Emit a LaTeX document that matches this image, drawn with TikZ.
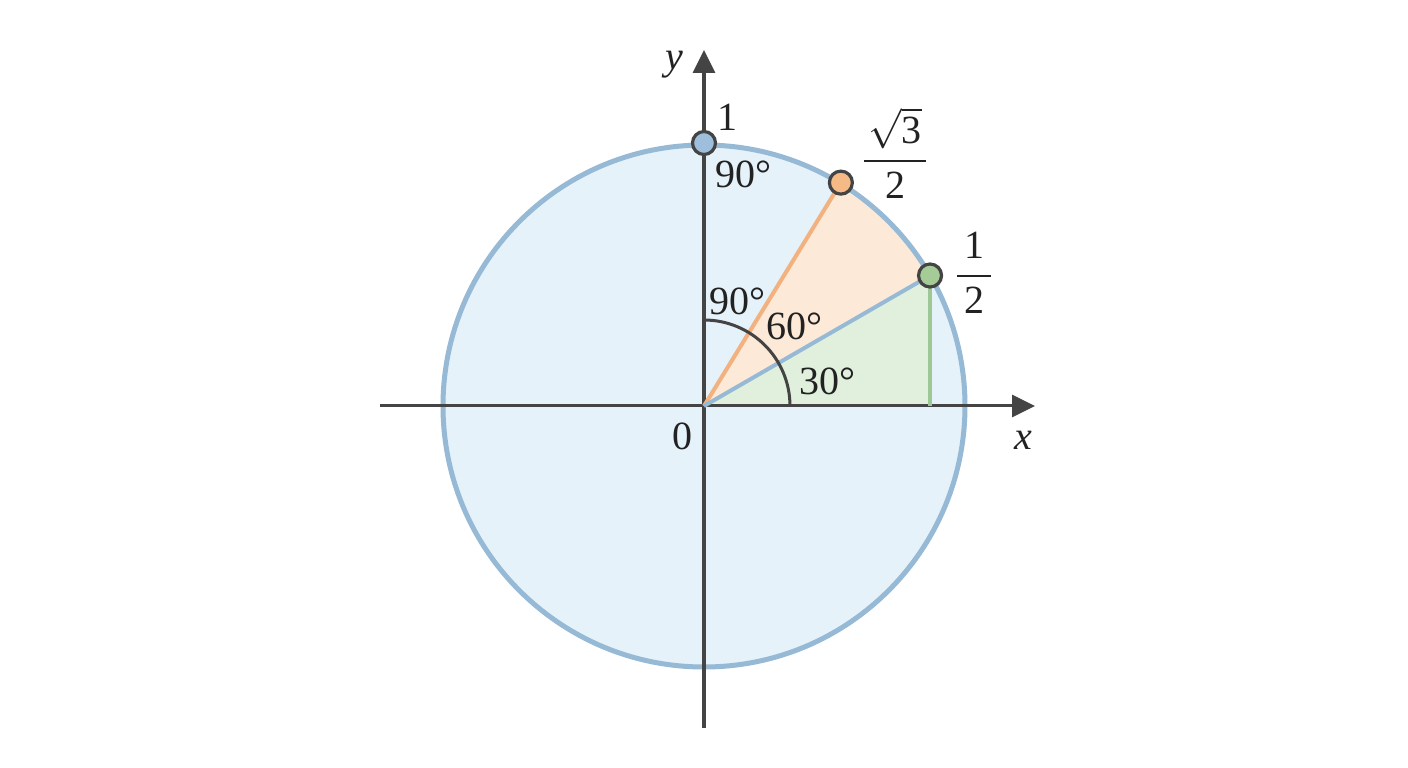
\RequirePackage{fix-cm}
\documentclass[tikz,border=0pt]{standalone}
\usepackage{amsmath}
\usepackage{fontspec}
\setmainfont{Liberation Serif}
\usetikzlibrary{arrows.meta}
\definecolor{circfill}{HTML}{E6F2F9}
\definecolor{circline}{HTML}{96B9D5}
\definecolor{orfill}{HTML}{FDE9D7}
\definecolor{orline}{HTML}{F2B17E}
\definecolor{grfill}{HTML}{E1F0DD}
\definecolor{grline}{HTML}{9DC896}
\definecolor{axiscol}{HTML}{444444}
\definecolor{txtcol}{HTML}{222222}
\definecolor{dotblue}{HTML}{9DBFDC}
\definecolor{dotorange}{HTML}{F6BA86}
\definecolor{dotgreen}{HTML}{A5CB97}
\begin{document}
\begin{tikzpicture}[x=1pt,y=1pt,
  lbl/.style={font=\fontsize{40}{48}\selectfont, inner sep=0pt, text=txtcol},
  axisline/.style={draw=axiscol, line width=3pt, -{Triangle[length=23pt,width=22pt]}},
  dot/.style={circle, draw=axiscol, line width=3.2pt, minimum size=23pt, inner sep=0pt}]
\useasboundingbox (-704,-362) rectangle (704,406);
\fill[white] (-704,-362) rectangle (704,406);
\coordinate (O) at (0,0);
\coordinate (P90) at (90:263);
\coordinate (P60) at (58.5:262);
\coordinate (P30) at (30:261);
\coordinate (F) at (P30 |- O);
\coordinate (xs) at (-324,0);
\coordinate (xe) at (331,0);
\coordinate (ys) at (0,-322);
\coordinate (ye) at (0,356);
\coordinate (A0) at (86,0);
% fills
\fill[circfill] (O) circle (261);
\fill[orfill] (O) -- (P30) arc (30:58.5:261) -- cycle;
\fill[grfill] (O) -- (P30) -- (F) -- cycle;
\draw[circline, line width=5pt] (O) circle (261);
% axes
\draw[axisline] (xs) -- (xe);
\draw[axisline] (ys) -- (ye);
% segments
\draw[grline, line width=4pt] (F) -- (P30);
\draw[orline, line width=4pt] (O) -- (P60);
\draw[circline, line width=4pt] (O) -- (P30);
\draw[axiscol, line width=3pt] (A0) arc (0:90:86);
% dots
\node[dot, fill=dotblue] (d90) at (P90) {};
\node[dot, fill=dotorange] (d60) at (P60) {};
\node[dot, fill=dotgreen] (d30) at (P30) {};
% labels
\node[lbl] (l1) at (23,289) {1};
\node[lbl] (l90a) at (39,232) {90°};
\node[lbl] (l90b) at (33,105) {90°};
\node[lbl] (l60) at (90,80) {60°};
\node[lbl] (l30) at (123,25) {30°};
\node[lbl] (l0) at (-21,-30) {0};
\node[lbl] (lx) at (319,-34) {\textit{x}};
\node[lbl] (ly) at (-30,341) {\textit{y}};
\node[lbl] (fs3) at (191,253) {$\genfrac{}{}{2.4pt}{0}{\mkern2mu\sqrt{\mathrm{3}}\mkern2mu}{\mathrm{2}}$};
\node[lbl] (fh) at (270,133) {$\genfrac{}{}{2.4pt}{0}{\mkern3mu\mathrm{1}\mkern3mu}{\mathrm{2}}$};
\end{tikzpicture}
\end{document}
